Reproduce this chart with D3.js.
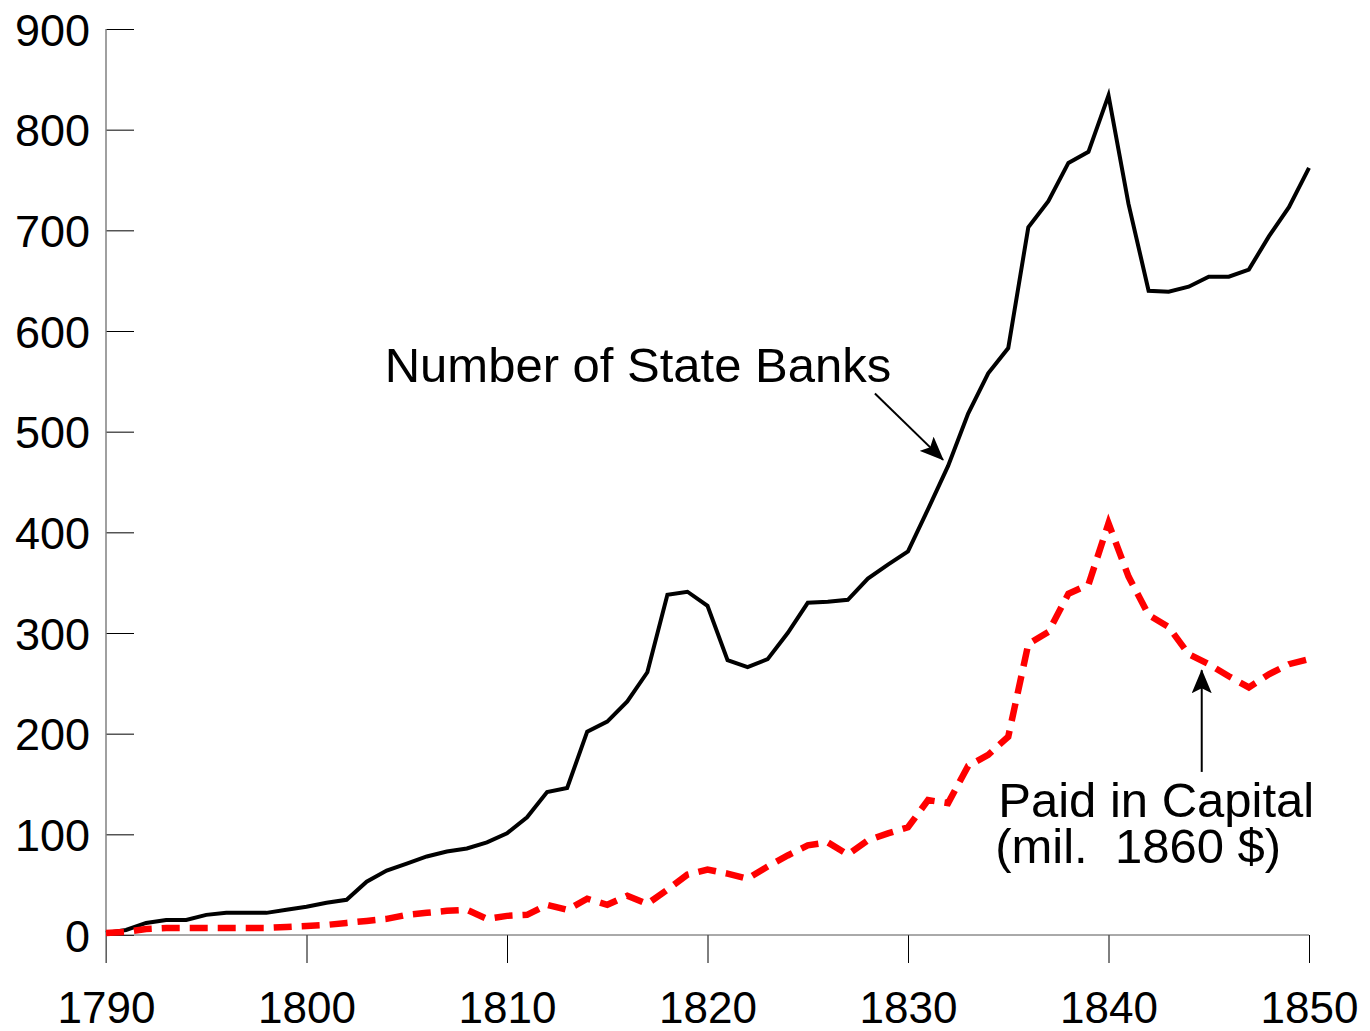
<!DOCTYPE html>
<html>
<head>
<meta charset="utf-8">
<script src="https://cdn.jsdelivr.net/npm/d3@7"></script>
<style>
  body { margin: 0; background: #fff; }
  svg text { font-family: "Liberation Sans", Arial, sans-serif; fill: #000; }
</style>
</head>
<body>
<div id="chart"></div>
<script>
// Data, one value per year 1790..1850
const years = d3.range(1790, 1851);
const stateBanks = [
  2, 5, 12, 15, 15, 20, 22, 22, 22, 25,
  28, 32, 35, 53, 64, 71, 78, 83, 86, 92,
  101, 117, 142, 146, 202, 212, 232, 261, 338, 341,
  327, 273, 266, 274, 300, 330, 331, 333, 354, 368,
  381, 423, 466, 518, 558, 583, 703, 729, 767, 778,
  834, 726, 640, 639, 644, 654, 654, 661, 694, 723,
  762
];
const paidCapital = [
  2, 3, 6, 7, 7, 7, 7, 7, 7, 8,
  9, 10, 12, 14, 16, 20, 22, 24, 25, 16,
  19, 20, 30, 25, 36, 30, 39, 31, 45, 60,
  65, 61, 56, 68, 79, 89, 92, 80, 94, 101,
  107, 134, 131, 168, 179, 197, 289, 301, 339, 348,
  409, 356, 318, 306, 279, 269, 257, 246, 259, 269,
  274
];
const yTicks = [0, 100, 200, 300, 400, 500, 600, 700, 800, 900];
const xTicks = [1790, 1800, 1810, 1820, 1830, 1840, 1850];

const W = 1370, H = 1031;
const svg = d3.select("#chart").append("svg")
  .attr("width", W)
  .attr("height", H);

const x = d3.scaleLinear().domain([1790, 1850]).range([106, 1309]);
const y = d3.scaleLinear().domain([0, 900]).range([935, 29]);

// arrowhead marker (notched)
svg.append("defs").append("marker")
  .attr("id", "arrow")
  .attr("markerUnits", "userSpaceOnUse")
  .attr("viewBox", "0 -10 24 20")
  .attr("refX", 23)
  .attr("refY", 0)
  .attr("markerWidth", 24)
  .attr("markerHeight", 20)
  .attr("orient", "auto")
  .append("path")
  .attr("d", "M0,-10 L24,0 L0,10 L5,0 Z")
  .attr("fill", "#000");

// Y axis: ticks pointing inward
const yAxis = svg.append("g")
  .attr("transform", `translate(${x(1790)},0)`)
  .call(d3.axisLeft(y).tickValues(yTicks).tickSizeInner(-28).tickSizeOuter(0).tickPadding(16));
yAxis.select(".domain").remove();
yAxis.selectAll("line").attr("stroke", "#000").attr("stroke-width", 1);
yAxis.selectAll("text").style("font-size", "45px").attr("dy", "0.36em");

// X axis: ticks pointing down
const xAxis = svg.append("g")
  .attr("transform", `translate(0,${y(0)})`)
  .call(d3.axisBottom(x).tickValues(xTicks).tickFormat(d3.format("d")).tickSizeInner(28).tickSizeOuter(0).tickPadding(29));
xAxis.select(".domain").remove();
xAxis.selectAll("line").attr("stroke", "#000").attr("stroke-width", 1);
xAxis.selectAll("text").style("font-size", "44px");

// axis lines in grey
svg.append("line")
  .attr("x1", x(1790)).attr("x2", x(1790))
  .attr("y1", y(900)).attr("y2", y(0) + 28)
  .attr("stroke", "#808080").attr("stroke-width", 1.5);
svg.append("line")
  .attr("x1", x(1790)).attr("x2", x(1850))
  .attr("y1", y(0)).attr("y2", y(0))
  .attr("stroke", "#555").attr("stroke-width", 1);

const line = d3.line()
  .x((d, i) => x(years[i]))
  .y(d => y(d));

svg.append("path")
  .datum(stateBanks)
  .attr("d", line)
  .attr("fill", "none")
  .attr("stroke", "#000")
  .attr("stroke-width", 4)
  .attr("stroke-linejoin", "miter");

svg.append("path")
  .datum(paidCapital)
  .attr("d", line)
  .attr("fill", "none")
  .attr("stroke", "#ff0000")
  .attr("stroke-width", 6.5)
  .attr("stroke-dasharray", "18,10");

// annotations
svg.append("text")
  .attr("x", x(1803.9))
  .attr("y", y(549))
  .style("font-size", "49px")
  .text("Number of State Banks");

svg.append("line")
  .attr("x1", x(1828.35)).attr("y1", y(538))
  .attr("x2", x(1831.75)).attr("y2", y(472))
  .attr("stroke", "#000").attr("stroke-width", 2)
  .attr("marker-end", "url(#arrow)");

const paidLabel = svg.append("text")
  .style("font-size", "49px");
paidLabel.append("tspan")
  .attr("x", x(1834.5)).attr("y", y(117.5))
  .text("Paid in Capital");
paidLabel.append("tspan")
  .attr("x", x(1834.35)).attr("y", y(71.5))
  .attr("xml:space", "preserve")
  .style("white-space", "pre")
  .text("(mil.  1860 $)");

svg.append("line")
  .attr("x1", x(1844.65)).attr("y1", y(162))
  .attr("x2", x(1844.65)).attr("y2", y(263))
  .attr("stroke", "#000").attr("stroke-width", 2)
  .attr("marker-end", "url(#arrow)");
</script>
</body>
</html>
